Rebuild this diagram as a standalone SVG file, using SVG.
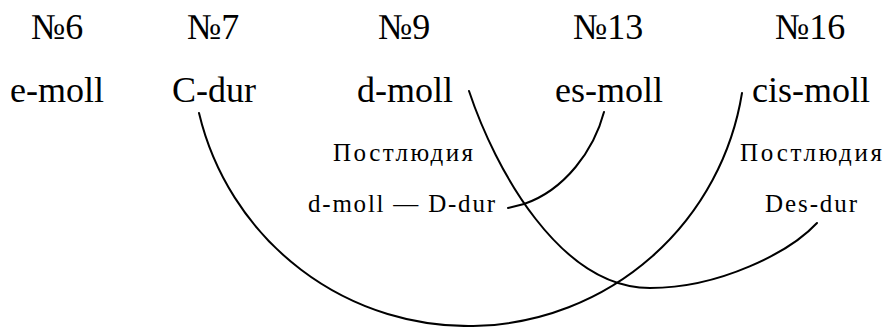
<svg xmlns="http://www.w3.org/2000/svg" width="884" height="327" viewBox="0 0 884 327">
<rect width="884" height="327" fill="#fff"/>
<g id="connectors" fill="none" stroke="#000" stroke-width="2" stroke-linecap="round">
<path d="M199,113 A277,277 0 0 0 742,93"/>
<path d="M469,91 C495,169 560,288 650,288 C720,288 790,252 817,223"/>
<path d="M604,112 C594,150 565,190 524,204 L508,208"/>
</g>
<g id="n6"><text style="font-family:'Liberation Serif',serif;font-size:36px" x="31" y="39">№6</text><text style="font-family:'Liberation Serif',serif;font-size:36px" x="10" y="102">e-moll</text></g>
<g id="n7"><text style="font-family:'Liberation Serif',serif;font-size:36px" x="187" y="39">№7</text><text style="font-family:'Liberation Serif',serif;font-size:36px" x="172" y="102">C-dur</text></g>
<g id="n9"><text style="font-family:'Liberation Serif',serif;font-size:36px" x="378" y="39">№9</text><text style="font-family:'Liberation Serif',serif;font-size:36px" x="357" y="102">d-moll</text></g>
<g id="n13"><text style="font-family:'Liberation Serif',serif;font-size:36px" x="573" y="39">№13</text><text style="font-family:'Liberation Serif',serif;font-size:36px" x="555" y="102">es-moll</text></g>
<g id="n16"><text style="font-family:'Liberation Serif',serif;font-size:36px" x="775" y="39">№16</text><text style="font-family:'Liberation Serif',serif;font-size:36px" x="752" y="102">cis-moll</text></g>
<g id="post9"><text style="font-family:'Liberation Serif',serif;font-size:25px" x="333" y="161" textLength="140" lengthAdjust="spacing">Постлюдия</text><text style="font-family:'Liberation Serif',serif;font-size:25px" x="308" y="212" textLength="187" lengthAdjust="spacing">d-moll — D-dur</text></g>
<g id="post16"><text style="font-family:'Liberation Serif',serif;font-size:25px" x="740" y="161" textLength="142" lengthAdjust="spacing">Постлюдия</text><text style="font-family:'Liberation Serif',serif;font-size:25px" x="765" y="212" textLength="92" lengthAdjust="spacing">Des-dur</text></g>
</svg>
